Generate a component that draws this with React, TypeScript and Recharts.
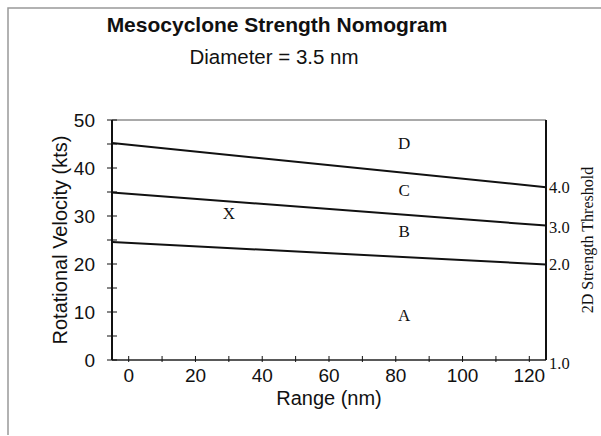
import { ComposedChart, Line, Scatter, XAxis, YAxis, ReferenceLine } from 'recharts'

// Range (nm) at the two ends of each threshold line
const rangeEnds = [-5, 125]
// Rotational velocity (kts) along the 4.0, 3.0 and 2.0 threshold lines
const threshold4 = [45.2, 36.0]
const threshold3 = [34.9, 28.0]
const threshold2 = [24.6, 19.9]

// Region letters placed on the nomogram
const regionNames = ['D', 'C', 'B', 'A', 'X']
const regionRange = [82.5, 82.5, 82.5, 82.5, 30]
const regionVelocity = [45.2, 35.4, 26.8, 9.2, 30.6]

const xTicks = [0, 10, 20, 30, 40, 50, 60, 70, 80, 90, 100, 110, 120]
const yTicks = [0, 5, 10, 15, 20, 25, 30, 35, 40, 45, 50]
// Right axis: threshold values at the velocity where each line meets it
const rightTickVelocity = [0, 19.8, 27.6, 36]
const rightTickLabels = ['1.0', '2.0', '3.0', '4.0']

const lineData = (vals: number[]) => rangeEnds.map((r, i) => ({ range: r, v: vals[i] }))
const regions = regionNames.map((name, i) => ({ name, range: regionRange[i], v: regionVelocity[i] }))

const SANS = 'Arial, "Liberation Sans", Helvetica, sans-serif'
const SERIF = '"Times New Roman", "Liberation Serif", serif'
const INK = '#111'

// tick mark crossing the axis line, label only on the major values
function LeftTick(props: any) {
  const { x, y, payload } = props
  return (
    <g>
      <line x1={x + 12} x2={x + 22} y1={y} y2={y} stroke={INK} strokeWidth={1} />
      {payload.value % 10 === 0 && (
        <text x={x} y={y} textAnchor="end" dominantBaseline="central" fontFamily={SANS} fontSize={19} fill={INK}>
          {payload.value}
        </text>
      )}
    </g>
  )
}

function BottomTick(props: any) {
  const { x, y, payload } = props
  return (
    <g>
      <line x1={x} x2={x} y1={y - 18} y2={y - 12} stroke={INK} strokeWidth={1} />
      {payload.value % 20 === 0 && (
        <text x={x} y={y + 1} textAnchor="middle" dominantBaseline="central" fontFamily={SANS} fontSize={19} fill={INK}>
          {payload.value}
        </text>
      )}
    </g>
  )
}

function RightTick(props: any) {
  const { x, y, payload, index } = props
  let idx = rightTickVelocity.indexOf(Number(payload?.value))
  if (idx < 0) idx = index
  const label = rightTickLabels[idx] ?? String(payload?.value)
  const shift = label === '1.0' ? 3 : 0
  return (
    <text x={x + 1} y={y + shift} textAnchor="start" dominantBaseline="central" fontFamily={SERIF} fontSize={16.5} fill={INK}>
      {label}
    </text>
  )
}

function RegionLetter(props: any) {
  const { cx, cy, payload } = props
  return (
    <text x={cx} y={cy} textAnchor="middle" dominantBaseline="central" fontFamily={SERIF} fontSize={17} fill={INK}>
      {payload.name}
    </text>
  )
}

export default function App() {
  return (
    <div style={{ position: 'absolute', left: 0, top: 0, width: 601, height: 436, background: '#fff' }}>
      <ComposedChart width={601} height={436} margin={{ top: 120, right: -27, bottom: 0, left: 8 }}>
        <XAxis
          xAxisId={0}
          dataKey="range"
          type="number"
          domain={[-5, 125]}
          ticks={xTicks}
          interval={0}
          height={76}
          tickSize={0}
          tickMargin={14}
          tick={<BottomTick />}
          tickLine={false}
          axisLine={{ stroke: '#222', strokeWidth: 1.5 }}
          label={{ value: 'Range (nm)', position: 'center', fontFamily: SANS, fontSize: 20, fill: INK }}
        />
        <YAxis
          yAxisId={0}
          type="number"
          domain={[0, 50]}
          ticks={yTicks}
          interval={0}
          width={104}
          tickSize={0}
          tickMargin={17}
          tick={<LeftTick />}
          tickLine={false}
          axisLine={{ stroke: INK, strokeWidth: 2 }}
          label={{ value: 'Rotational Velocity (kts)', angle: -90, position: 'center', fontFamily: SANS, fontSize: 20, fill: INK }}
        />
        <YAxis
          yAxisId={1}
          orientation="right"
          type="number"
          domain={[0, 50]}
          allowDataOverflow
          ticks={rightTickVelocity}
          interval={0}
          width={82}
          tickSize={0}
          tickMargin={2}
          tickLine={false}
          tick={<RightTick />}
          axisLine={{ stroke: INK, strokeWidth: 2 }}
          label={{ value: '2D Strength Threshold', angle: -90, position: 'center', fontFamily: SERIF, fontSize: 16, fill: INK }}
        />
        {/* plot frame */}
        <ReferenceLine yAxisId={0} y={50} stroke="#555" strokeWidth={1} ifOverflow="visible" />
        <ReferenceLine yAxisId={0} x={-5} stroke={INK} strokeWidth={2} ifOverflow="visible" />
        <ReferenceLine yAxisId={0} x={125} stroke={INK} strokeWidth={2} ifOverflow="visible" />
        <Line yAxisId={0} data={lineData(threshold4)} dataKey="v" stroke={INK} strokeWidth={2} dot={false} isAnimationActive={false} />
        <Line yAxisId={0} data={lineData(threshold3)} dataKey="v" stroke={INK} strokeWidth={2} dot={false} isAnimationActive={false} />
        <Line yAxisId={0} data={lineData(threshold2)} dataKey="v" stroke={INK} strokeWidth={2} dot={false} isAnimationActive={false} />
        <Scatter yAxisId={0} data={regions} dataKey="v" shape={<RegionLetter />} isAnimationActive={false} />
      </ComposedChart>
      <svg width={601} height={436} style={{ position: 'absolute', left: 0, top: 0, pointerEvents: 'none' }}>
        <polyline points="8,435 8,8 601,8" fill="none" stroke="#999" strokeWidth={1.5} />
        <text x={277} y={32} textAnchor="middle" fontFamily={SANS} fontWeight="bold" fontSize={21} fill={INK}>
          Mesocyclone Strength Nomogram
        </text>
        <text x={274} y={64} textAnchor="middle" fontFamily={SANS} fontSize={20.5} fill={INK}>
          Diameter = 3.5 nm
        </text>
      </svg>
    </div>
  )
}
